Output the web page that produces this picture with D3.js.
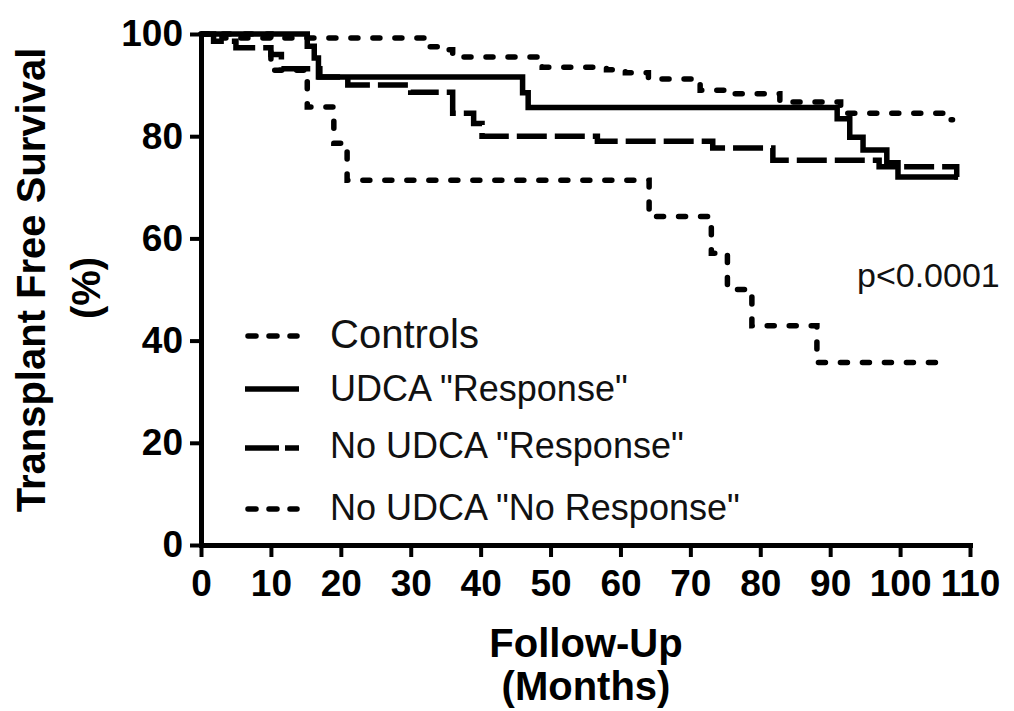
<!DOCTYPE html>
<html>
<head>
<meta charset="utf-8">
<script src="https://cdn.jsdelivr.net/npm/d3@7"></script>
<style>
	body { margin: 0; background: #fff; }
	svg { display: block; font-family: "Liberation Sans", Arial, sans-serif; }
</style>
</head>
<body>
<svg id="chart" width="1014" height="711"></svg>
<script>
// step data: month of each step and survival (%) after it
const controlsMonths = [0, 3, 32, 34.5, 36, 48.8, 58, 60.7, 64, 71.4, 75, 82.8, 91.5, 106.7, 107.5];
const controlsSurv = [100, 99.2, 97.5, 96.9, 95.5, 93.5, 93, 92.4, 91.2, 89, 88.3, 86.7, 84.5, 83.2, 83.2];

const udcaRespMonths = [0, 15.2, 16.2, 16.8, 46, 46.8, 91, 92.8, 94.7, 98.1, 99.7, 108.3];
const udcaRespSurv = [100, 97.6, 95.3, 91.6, 88.5, 85.6, 83.4, 79.8, 77.3, 74.8, 72, 72];

const noUdcaRespMonths = [0, 1.8, 5, 10, 11.5, 17, 21, 30, 36, 39, 40.2, 56.7, 73.2, 81.8, 97, 108.1, 108.2];
const noUdcaRespSurv = [100, 98.6, 97.3, 96, 93.2, 91.6, 90, 88.6, 84.5, 82.5, 80, 79, 77.7, 75.3, 74, 72, 72];

const noRespMonths = [0, 10, 15.2, 19, 20.9, 64.1, 73, 75.3, 78.8, 88.1, 106.2];
const noRespSurv = [100, 92.9, 85.7, 78.6, 71.4, 64.3, 57.1, 50, 42.9, 35.7, 35.7];

const groupNames = ['Controls', 'UDCA "Response"', 'No UDCA "Response"', 'No UDCA "No Response"'];
const xTicks = [0, 10, 20, 30, 40, 50, 60, 70, 80, 90, 100, 110];
const yTicks = [0, 20, 40, 60, 80, 100];

const styles = {
	dotted: { dash: '7,15', legendDash: '8,13', cap: 'round' },
	solid: { dash: null, legendDash: null, cap: 'butt' },
	dashed: { dash: '30,8', legendDash: '34,6', cap: 'butt' },
};

const series = [
	{ name: groupNames[0], months: controlsMonths, surv: controlsSurv, style: 'dotted', size: 40 },
	{ name: groupNames[1], months: udcaRespMonths, surv: udcaRespSurv, style: 'solid', size: 36 },
	{ name: groupNames[2], months: noUdcaRespMonths, surv: noUdcaRespSurv, style: 'dashed', size: 36 },
	{ name: groupNames[3], months: noRespMonths, surv: noRespSurv, style: 'dotted', size: 36 },
];

const svg = d3.select('#chart');

const x = d3.scaleLinear().domain([0, 110]).range([201, 970]);
const y = d3.scaleLinear().domain([0, 100]).range([545, 34]);

// axes
let yAxis = svg.append('g')
	.attr('transform', `translate(${x(0)},0)`)
	.call(d3.axisLeft(y).tickValues(yTicks).tickSize(11).tickSizeOuter(0).tickPadding(7));
let xAxis = svg.append('g')
	.attr('transform', `translate(0,${y(0)})`)
	.call(d3.axisBottom(x).tickValues(xTicks).tickSize(12).tickSizeOuter(0).tickPadding(13));

[yAxis, xAxis].forEach(g => {
	g.select('.domain')
		.attr('stroke', '#000')
		.attr('stroke-width', 5)
		.attr('stroke-linecap', 'square');
	g.selectAll('.tick line')
		.attr('stroke', '#000')
		.attr('stroke-width', 4);
	g.selectAll('.tick text')
		.attr('fill', '#000')
		.attr('font-size', 37)
		.attr('font-weight', 'bold')
		.attr('font-family', '"Liberation Sans", Arial, sans-serif');
});

// curves
const line = d3.line()
	.x(d => x(d[0]))
	.y(d => y(d[1]))
	.curve(d3.curveStepAfter);

series.forEach(s => {
	let pts = s.months.map((m, i) => [m, s.surv[i]]);
	svg.append('path')
		.datum(pts)
		.attr('d', line)
		.attr('fill', 'none')
		.attr('stroke', '#000')
		.attr('stroke-width', 5.5)
		.attr('stroke-linecap', styles[s.style].cap)
		.attr('stroke-dasharray', styles[s.style].dash);
});

// legend
const legendY = [336, 389, 448, 509];
const legendBase = [348, 401, 458, 520];
series.forEach((s, i) => {
	let sample = svg.append('line')
		.attr('x1', 245)
		.attr('x2', 299)
		.attr('y1', legendY[i])
		.attr('y2', legendY[i])
		.attr('stroke', '#000')
		.attr('stroke-width', 5.5)
		.attr('stroke-linecap', styles[s.style].cap)
		.attr('stroke-dasharray', styles[s.style].legendDash);
	if (s.style == 'dotted') {
		sample.attr('x1', 248).attr('x2', 297);
	}
	svg.append('text')
		.attr('x', 330)
		.attr('y', legendBase[i])
		.attr('font-size', s.size)
		.attr('fill', '#111')
		.text(s.name);
});

svg.append('text')
	.attr('x', 857)
	.attr('y', 287)
	.attr('font-size', 34)
	.attr('fill', '#111')
	.text('p<0.0001');

// axis titles
svg.append('text')
	.attr('x', 586)
	.attr('y', 657)
	.attr('text-anchor', 'middle')
	.attr('font-size', 40)
	.attr('font-weight', 'bold')
	.text('Follow-Up');
svg.append('text')
	.attr('x', 586)
	.attr('y', 700)
	.attr('text-anchor', 'middle')
	.attr('font-size', 40)
	.attr('font-weight', 'bold')
	.text('(Months)');

svg.append('text')
	.attr('transform', 'translate(45,280) rotate(-90)')
	.attr('text-anchor', 'middle')
	.attr('font-size', 40)
	.attr('font-weight', 'bold')
	.text('Transplant Free Survival');
svg.append('text')
	.attr('transform', 'translate(100,288) rotate(-90)')
	.attr('text-anchor', 'middle')
	.attr('font-size', 40)
	.attr('font-weight', 'bold')
	.text('(%)');
</script>
</body>
</html>
